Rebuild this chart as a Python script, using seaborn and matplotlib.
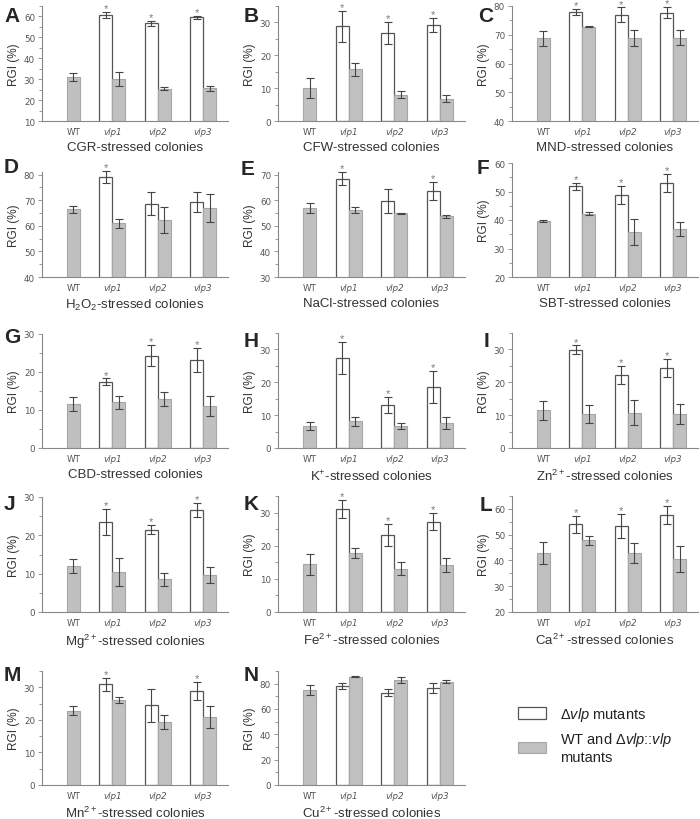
import matplotlib
matplotlib.use("Agg")
import matplotlib.pyplot as plt
from matplotlib.patches import Patch
from matplotlib.ticker import MultipleLocator, AutoMinorLocator
import pandas as pd
import seaborn as sns

# Strains on the x axis (WT has only the grey bar)
STRAINS = ["WT", "vlp1", "vlp2", "vlp3"]
PANELS = list("ABCDEFGHIJKLMN")
STRESSES = ["CGR", "CFW", "MND", r"H$_2$O$_2$", "NaCl", "SBT", "CBD",
            r"K$^{+}$", r"Zn$^{2+}$", r"Mg$^{2+}$", r"Fe$^{2+}$",
            r"Ca$^{2+}$", r"Mn$^{2+}$", r"Cu$^{2+}$"]

# deletion mutants: vlp1, vlp2, vlp3 (one row per panel)
MUT_MEAN = [
    [60.6, 56.7, 59.6], [28.8, 26.7, 29.3], [78.0, 77.0, 77.7],
    [79.0, 68.6, 69.3], [68.4, 59.5, 63.5], [51.8, 48.8, 53.0],
    [17.4, 24.3, 23.2], [27.4, 13.2, 18.5], [29.9, 22.2, 24.4],
    [23.5, 21.5, 26.7], [31.0, 23.2, 27.3], [54.0, 53.4, 57.6],
    [31.0, 24.5, 28.8], [78.2, 72.9, 76.8],
]
MUT_SD = [
    [1.5, 1.3, 0.6], [4.7, 3.4, 2.1], [1.0, 2.5, 2.0],
    [2.3, 4.5, 4.0], [2.5, 4.7, 3.5], [1.3, 3.1, 3.2],
    [0.9, 2.8, 3.1], [4.8, 2.4, 4.9], [1.3, 2.8, 2.8],
    [3.5, 1.1, 1.8], [2.7, 3.4, 2.5], [3.4, 4.5, 3.6],
    [2.0, 5.1, 2.8], [2.6, 2.5, 3.9],
]
# WT and complemented strains: WT, vlp1, vlp2, vlp3
COMP_MEAN = [
    [31.0, 30.2, 25.4, 25.7], [10.0, 15.8, 8.0, 6.8], [68.7, 72.8, 69.0, 68.9],
    [66.4, 61.0, 62.2, 66.8], [57.0, 56.2, 54.8, 53.7], [39.6, 42.2, 35.7, 36.9],
    [11.6, 12.0, 12.9, 11.0], [6.7, 8.1, 6.6, 7.6], [11.5, 10.4, 10.7, 10.4],
    [12.0, 10.5, 8.5, 9.7], [14.4, 17.9, 13.1, 14.1], [42.8, 47.8, 42.8, 40.5],
    [22.8, 26.0, 19.3, 20.9], [74.7, 85.6, 83.0, 81.6],
]
COMP_SD = [
    [1.8, 3.4, 0.8, 1.2], [3.0, 2.0, 1.0, 1.1], [2.6, 0.2, 2.8, 2.6],
    [1.5, 1.7, 5.0, 5.5], [2.0, 1.2, 0.3, 0.7], [0.3, 0.5, 4.5, 2.5],
    [1.8, 1.7, 1.8, 2.7], [1.1, 1.4, 0.9, 1.9], [2.9, 2.8, 3.8, 3.0],
    [1.7, 3.6, 1.8, 2.1], [3.1, 1.5, 1.9, 2.1], [4.2, 1.8, 3.9, 5.0],
    [1.4, 0.9, 2.1, 3.5], [4.0, 0.5, 2.5, 1.4],
]
# asterisk above the mutant bar (vlp1, vlp2, vlp3)
STARS = [
    [1, 1, 1], [1, 1, 1], [1, 1, 1], [1, 0, 0], [1, 0, 1], [1, 1, 1], [1, 1, 1],
    [1, 1, 1], [1, 1, 1], [1, 1, 1], [1, 1, 1], [1, 1, 1], [1, 0, 1], [0, 0, 0],
]

# layout: axes box in pixels (left, top, right, bottom), y range, letter spot
BOXES = [
    (42, 7, 228, 122), (278, 7, 465, 122), (512, 7, 698, 122),
    (42, 173, 228, 278), (278, 173, 465, 278), (512, 164, 698, 278),
    (42, 335, 228, 449), (278, 334, 465, 449), (512, 334, 698, 449),
    (42, 498, 228, 613), (278, 497, 465, 613), (512, 497, 698, 613),
    (42, 672, 228, 786), (278, 672, 465, 786),
]
YLIMS = [(10, 65), (0, 35), (40, 80), (40, 81), (30, 71), (20, 60), (0, 30),
         (0, 35), (0, 35), (0, 30), (0, 35), (20, 65), (0, 35), (0, 90)]
LETTER_POS = [(4, 7), (244, 7), (478, 7), (4, 158), (241, 160), (477, 159),
              (4, 328), (244, 332), (484, 332), (4, 495), (244, 495), (480, 496),
              (4, 666), (244, 666)]

W, H = 700, 820
MUT_FILL, COMP_FILL = "white", "#c0c0c0"
MUT_EDGE, COMP_EDGE = "#555555", "#a6a6a6"

sns.set_style("ticks")
plt.rcParams["font.family"] = ["Liberation Sans", "DejaVu Sans"]
plt.rcParams["mathtext.fontset"] = "custom"
plt.rcParams["mathtext.rm"] = "Liberation Sans"
plt.rcParams["mathtext.it"] = "Liberation Sans:italic"
plt.rcParams["mathtext.bf"] = "Liberation Sans:bold"

fig = plt.figure(figsize=(W / 100, H / 100), dpi=100)

for k, letter in enumerate(PANELS):
    l, t, r, b = BOXES[k]
    ax = fig.add_axes([l / W, 1 - b / H, (r - l) / W, (b - t) / H])

    rows = []
    for i, s in enumerate(STRAINS):
        if i > 0:
            rows.append((s, "mut", MUT_MEAN[k][i - 1], MUT_SD[k][i - 1], STARS[k][i - 1]))
        rows.append((s, "comp", COMP_MEAN[k][i], COMP_SD[k][i], 0))
    df = pd.DataFrame(rows, columns=["strain", "group", "rgi", "sd", "star"])

    sns.barplot(data=df, x="strain", y="rgi", hue="group", order=STRAINS,
                hue_order=["mut", "comp"], palette={"mut": MUT_FILL, "comp": COMP_FILL},
                width=0.57, errorbar=None, legend=False, ax=ax)

    wt_x = 0.0
    for p in ax.patches:
        h = p.get_height()
        if h != h or h == 0:
            continue
        cx = p.get_x() + p.get_width() / 2
        g = int(round(cx))
        grp = "mut" if cx < g else "comp"
        row = df[(df.strain == STRAINS[g]) & (df.group == grp)].iloc[0]
        if grp == "mut":
            p.set_edgecolor(MUT_EDGE)
            p.set_linewidth(0.9)
        else:
            p.set_edgecolor(COMP_EDGE)
            p.set_linewidth(0.8)
            if g == 0:
                wt_x = cx
        ax.errorbar(cx, row.rgi, yerr=row.sd, fmt="none", ecolor="#454545",
                    elinewidth=0.8, capsize=2.8, capthick=0.8, zorder=5,
                    clip_on=False)
        if row.star:
            ax.annotate("*", (cx, row.rgi + row.sd), xytext=(0, 0.6),
                        textcoords="offset points", ha="center", va="baseline",
                        fontsize=8, color="#7a7a7a", annotation_clip=False)

    ax.set_xlim(-0.55, 3.55)
    ax.set_ylim(*YLIMS[k])
    step = 20 if YLIMS[k][1] > 85 else 10
    ax.yaxis.set_major_locator(MultipleLocator(step))
    ax.yaxis.set_minor_locator(AutoMinorLocator(2))
    ax.set_xticks([wt_x, 1, 2, 3])
    ax.set_xticklabels(STRAINS)
    for lbl in ax.get_xticklabels()[1:]:
        lbl.set_style("italic")
    ax.tick_params(axis="x", length=0, pad=4, labelsize=6.3, labelcolor="#555555")
    ax.tick_params(axis="y", which="major", length=3, width=0.6, color="#888888",
                   pad=2, labelsize=6.3, labelcolor="#555555")
    ax.tick_params(axis="y", which="minor", length=2, width=0.6, color="#888888")
    for lbl in ax.get_xticklabels() + ax.get_yticklabels():
        lbl.set_family("DejaVu Sans")
    sns.despine(ax=ax)
    for side in ("left", "bottom"):
        ax.spines[side].set_color("#888888")
        ax.spines[side].set_linewidth(0.8)

    ax.set_ylabel("RGI (%)", fontsize=8.5, color="#333333", labelpad=3)
    ax.set_xlabel(f"{STRESSES[k]}-stressed colonies", fontsize=9.5,
                  color="#333333", labelpad=4)

    lx, ly = LETTER_POS[k]
    fig.text(lx / W, 1 - ly / H, letter, fontsize=15, fontweight="bold",
             va="top", ha="left")

handles = [
    Patch(facecolor=MUT_FILL, edgecolor=MUT_EDGE, linewidth=0.9,
          label=r"$\Delta\mathit{vlp}$ mutants"),
    Patch(facecolor=COMP_FILL, edgecolor=COMP_EDGE, linewidth=0.8,
          label="WT and $\\Delta\\mathit{vlp}$::$\\mathit{vlp}$\nmutants"),
]
fig.legend(handles=handles, loc="upper left", bbox_to_anchor=(505 / W, 1 - 693 / H),
           frameon=False, fontsize=10.5, handlelength=1.9, handleheight=0.8,
           labelspacing=0.45, handletextpad=1.0, labelcolor="#222222")

fig.savefig("out.png", dpi=100)
